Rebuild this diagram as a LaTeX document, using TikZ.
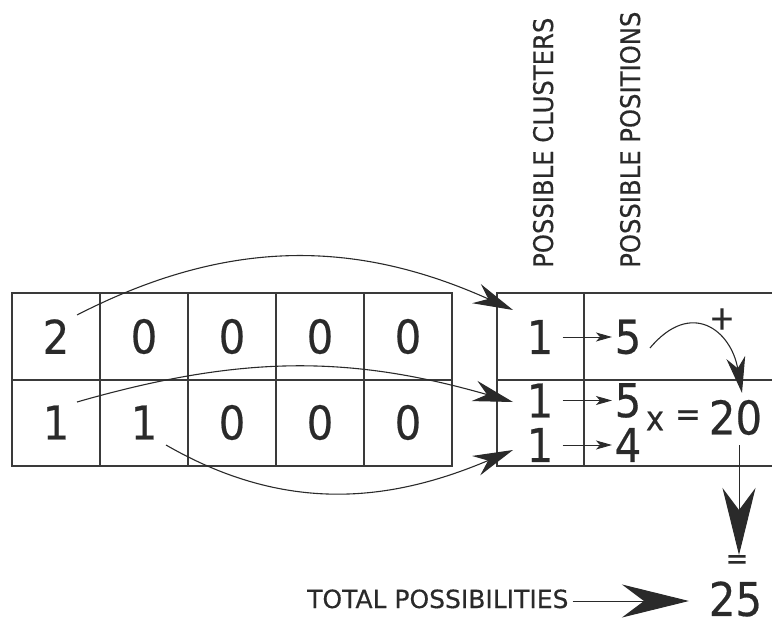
\documentclass[tikz,border=0pt]{standalone}
\usepackage{fontspec}
\setmainfont[FakeBold=0.4]{DejaVu Sans}
\newfontfamily\nfont[FakeStretch=0.9,FakeBold=0.4]{DejaVu Sans}
\usetikzlibrary{arrows.meta}
\definecolor{ink}{HTML}{2A2A2A}
\definecolor{rule}{HTML}{3A3A3A}
\begin{document}
\begin{tikzpicture}[x=1pt,y=-1pt,
  grid/.style={draw=rule,line width=1.4pt},
  digit/.style={inner sep=0pt,text=ink,font=\nfont\fontsize{46.5}{50}\selectfont},
  oper/.style={inner sep=0pt,text=ink,font=\nfont\fontsize{34}{36}\selectfont},
  smallop/.style={inner sep=0pt,text=ink,font=\nfont\fontsize{30}{32}\selectfont},
  plusop/.style={inner sep=0pt,text=ink,font=\nfont\fontsize{34}{36}\selectfont},
  vlabel/.style={inner sep=0pt,text=ink,rotate=90,anchor=base west,font=\nfont\fontsize{27}{30}\selectfont},
  hlabel/.style={inner sep=0pt,text=ink,anchor=base west,font=\fontsize{25}{28}\selectfont},
  bigarc/.style={draw=ink,line width=1.1pt,-{Stealth[length=40pt,width=21pt,inset=13pt]}},
  plusarr/.style={draw=ink,line width=1.1pt,-{Stealth[length=36pt,width=19pt,inset=11pt]}},
  smallarr/.style={draw=ink,line width=0.9pt,-{Stealth[length=16pt,width=9pt,inset=4pt]}},
  heavy/.style={draw=ink,line width=1pt,-{Stealth[length=67pt,width=33pt,inset=22pt]}}]
\useasboundingbox (0,0) rectangle (772,623);

% left table
\draw[grid] (12,293) rectangle (452,466);
\foreach \x in {100,188,276,364} \draw[grid] (\x,293) -- (\x,466);
\draw[grid] (12,380) -- (452,380);
% right table
\draw[grid] (772,293) -- (497,293) -- (497,466) -- (772,466);
\draw[grid] (497,380) -- (772,380);
\draw[grid] (584,293) -- (584,466);

% left table digits
\node[digit] (a1) at (56,336.5) {2};
\node[digit] (a2) at (144,336.5) {0};
\node[digit] (a3) at (232,336.5) {0};
\node[digit] (a4) at (320,336.5) {0};
\node[digit] (a5) at (408,336.5) {0};
\node[digit] (b1) at (56,422.5) {1};
\node[digit] (b2) at (144,422.5) {1};
\node[digit] (b3) at (232,422.5) {0};
\node[digit] (b4) at (320,422.5) {0};
\node[digit] (b5) at (408,422.5) {0};

% headers
\node[vlabel] (hc) at (553,268) {POSSIBLE CLUSTERS};
\node[vlabel] (hp) at (640,268) {POSSIBLE POSITIONS};

% right table values
\node[digit] (c1) at (540,337) {1};
\node[digit] (p1) at (628,337) {5};
\node[digit] (c2) at (540,400.5) {1};
\node[digit] (p2) at (628,400.5) {5};
\node[digit] (c3) at (540,445) {1};
\node[digit] (p3) at (628,445) {4};
\node[oper] (times) at (655,421) {x};
\node[oper] (eqa) at (688,418) {=};
\node[digit] (n20) at (735.5,417.5) {20};
\node[plusop] (plus) at (722,319) {+};
\node[smallop] (eqb) at (737,562) {=};
\node[digit] (n25) at (735.5,599) {25};
\node[hlabel] (tot) at (307,608) {TOTAL POSSIBILITIES};

% small arrows
\draw[smallarr] ([xshift=9pt]c1.east) -- ([xshift=-2.5pt]p1.west);
\draw[smallarr] ([xshift=9pt]c2.east) -- ([xshift=-2.5pt]p2.west);
\draw[smallarr] ([xshift=9pt]c3.east) -- ([xshift=-2.5pt]p3.west);

% curved arrows
\coordinate (s1) at (77,315);
\coordinate (t1) at (513,310);
\coordinate (s2) at (77,402);
\coordinate (t2) at (513,402);
\coordinate (s3) at (166,445);
\coordinate (t3) at (513,450);
\draw[bigarc] (s1) .. controls +(152,-78) and +(-156,-70) .. (t1);
\draw[bigarc] (s2) .. controls +(164,-47) and +(-164,-47) .. (t2);
\draw[bigarc] (s3) .. controls +(118,68) and +(-125,53) .. (t3);

% plus arrow
\coordinate (s4) at (650,348);
\coordinate (t4) at (742,393);
\draw[plusarr] (s4) .. controls +(41,-49) and +(-11,-63) .. (t4);

% down arrow
\coordinate (t5) at (739,555);
\draw[heavy] ([xshift=3.5pt,yshift=-10pt]n20.south) -- (t5);

% total arrow
\coordinate (t6) at (689,601);
\draw[heavy] ([xshift=4pt]tot.east |- t6) -- (t6);
\end{tikzpicture}
\end{document}
